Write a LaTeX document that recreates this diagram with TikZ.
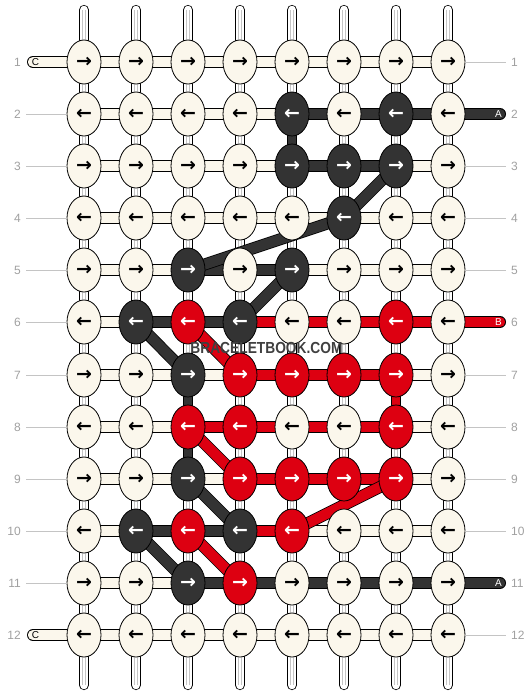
\documentclass[tikz,border=0pt]{standalone}
\usepackage{fontspec}
\usepackage{graphicx}
\setmainfont{Liberation Sans}
\newfontfamily\glyphfont{DejaVu Sans}
\usetikzlibrary{shapes.geometric,backgrounds}

\definecolor{cream}{HTML}{FBF7EC}
\definecolor{dark}{HTML}{333333}
\definecolor{bbred}{HTML}{DD0011}
\definecolor{numgray}{HTML}{A0A0A0}
\definecolor{seamgray}{HTML}{C4C4C4}
\definecolor{markgray}{HTML}{404040}

\newcommand{\goR}{→}
\newcommand{\goL}{←}

\begin{document}
\begin{tikzpicture}[x=1pt, y=-1pt,
    knot/.style={ellipse, draw=black, line width=0.8pt, minimum width=34pt, minimum height=44pt, inner sep=0pt, font=\glyphfont\bfseries\fontsize{19}{19}\selectfont},
    kcol/.is choice,
    kcol/W/.style={fill=cream, text=black},
    kcol/D/.style={fill=dark, text=white},
    kcol/R/.style={fill=bbred, text=white},
    strand/.style={draw=black, line width=0.8pt, double distance=10.4pt, scol=#1},
    vstrand/.style={draw=black, line width=0.8pt, double distance=8.6pt, scol=#1},
    scol/.is choice,
    scol/W/.style={double=cream},
    scol/D/.style={double=dark},
    scol/R/.style={double=bbred},
    warp/.style={draw=black, line width=0.8pt, double=white, double distance=8.6pt},
    seam/.style={draw=seamgray, line width=0.5pt},
    rownum/.style={text=numgray, font=\fontsize{12}{12}\selectfont, inner sep=5pt},
    tick/.style={draw=seamgray, line width=0.8pt},
    endlabel/.style={font=\fontsize{10}{10}\selectfont, inner sep=0pt}
]
\useasboundingbox (0,0) rectangle (532,696);

% Knots
\foreach \k [count=\c] in {W,W,W,W,W,W,W,W} \node[knot, kcol=\k] (k-1-\c) at (32+52*\c, 62) {\goR};
\foreach \k [count=\c] in {W,W,W,W,D,W,D,W} \node[knot, kcol=\k] (k-2-\c) at (32+52*\c, 114) {\goL};
\foreach \k [count=\c] in {W,W,W,W,D,D,D,W} \node[knot, kcol=\k] (k-3-\c) at (32+52*\c, 166) {\goR};
\foreach \k [count=\c] in {W,W,W,W,W,D,W,W} \node[knot, kcol=\k] (k-4-\c) at (32+52*\c, 218) {\goL};
\foreach \k [count=\c] in {W,W,D,W,D,W,W,W} \node[knot, kcol=\k] (k-5-\c) at (32+52*\c, 270) {\goR};
\foreach \k [count=\c] in {W,D,R,D,W,W,R,W} \node[knot, kcol=\k] (k-6-\c) at (32+52*\c, 322) {\goL};
\foreach \k [count=\c] in {W,W,D,R,R,R,R,W} \node[knot, kcol=\k] (k-7-\c) at (32+52*\c, 375) {\goR};
\foreach \k [count=\c] in {W,W,R,R,W,W,R,W} \node[knot, kcol=\k] (k-8-\c) at (32+52*\c, 427) {\goL};
\foreach \k [count=\c] in {W,W,D,R,R,R,R,W} \node[knot, kcol=\k] (k-9-\c) at (32+52*\c, 479) {\goR};
\foreach \k [count=\c] in {W,D,R,D,R,W,W,W} \node[knot, kcol=\k] (k-10-\c) at (32+52*\c, 531) {\goL};
\foreach \k [count=\c] in {W,W,D,R,W,W,W,W} \node[knot, kcol=\k] (k-11-\c) at (32+52*\c, 583) {\goR};
\foreach \k [count=\c] in {W,W,W,W,W,W,W,W} \node[knot, kcol=\k] (k-12-\c) at (32+52*\c, 635) {\goL};

% Row numbers
\foreach \r in {1,...,12} {
  \node[rownum, anchor=east] (ln-\r) at (26,0 |- k-\r-1) {\r};
  \node[rownum, anchor=west] (rn-\r) at (506,0 |- k-\r-8) {\r};
}
\foreach \r in {2,...,11} \draw[tick] (ln-\r.east) -- (k-\r-1.west);
\foreach \r in {1,3,4,5,7,8,9,10,12} \draw[tick] (k-\r-8.east) -- (rn-\r.west);

\begin{pgfonlayer}{background}
% Warp threads
\foreach \c in {1,...,8} {
  \coordinate (top-\c) at (32+52*\c, 10);
  \coordinate (bot-\c) at (32+52*\c, 685);
  \draw[warp, line cap=round] (top-\c) -- (k-1-\c.center);
  \draw[warp, line cap=round] (bot-\c) -- (k-12-\c.center);
  \foreach \dx in {-1.4,1.4} {
    \draw[seam] ([xshift=\dx pt]top-\c) -- ([xshift=\dx pt]k-1-\c.north);
    \draw[seam] ([xshift=\dx pt]bot-\c) -- ([xshift=\dx pt]k-12-\c.south);
  }
}
\foreach \r in {1,...,11} {
  \pgfmathtruncatemacro{\s}{\r+1}
  \foreach \c in {1,...,8} {
    \draw[warp] (k-\r-\c.center) -- (k-\s-\c.center);
    \foreach \dx in {-1.4,1.4}
      \draw[seam] ([xshift=\dx pt]k-\r-\c.south) -- ([xshift=\dx pt]k-\s-\c.north);
  }
}
\foreach \ra/\rb/\c/\k in {2/3/5/D, 7/8/3/D, 7/8/7/R, 8/9/3/D}
  \draw[vstrand=\k] (k-\ra-\c.center) -- (k-\rb-\c.center);

% Rows
\foreach \k [count=\c] in {W,W,W,W,W,W,W} {\pgfmathtruncatemacro{\n}{\c+1} \draw[strand=\k] (k-1-\c.center) -- (k-1-\n.center);}
\foreach \k [count=\c] in {W,W,W,W,D,D,D} {\pgfmathtruncatemacro{\n}{\c+1} \draw[strand=\k] (k-2-\c.center) -- (k-2-\n.center);}
\foreach \k [count=\c] in {W,W,W,W,D,D,W} {\pgfmathtruncatemacro{\n}{\c+1} \draw[strand=\k] (k-3-\c.center) -- (k-3-\n.center);}
\foreach \k [count=\c] in {W,W,W,W,W,W,W} {\pgfmathtruncatemacro{\n}{\c+1} \draw[strand=\k] (k-4-\c.center) -- (k-4-\n.center);}
\foreach \k [count=\c] in {W,W,D,D,W,W,W} {\pgfmathtruncatemacro{\n}{\c+1} \draw[strand=\k] (k-5-\c.center) -- (k-5-\n.center);}
\foreach \k [count=\c] in {W,D,D,R,R,R,R} {\pgfmathtruncatemacro{\n}{\c+1} \draw[strand=\k] (k-6-\c.center) -- (k-6-\n.center);}
\foreach \k [count=\c] in {W,W,W,R,R,R,W} {\pgfmathtruncatemacro{\n}{\c+1} \draw[strand=\k] (k-7-\c.center) -- (k-7-\n.center);}
\foreach \k [count=\c] in {W,W,R,R,R,R,W} {\pgfmathtruncatemacro{\n}{\c+1} \draw[strand=\k] (k-8-\c.center) -- (k-8-\n.center);}
\foreach \k [count=\c] in {W,W,W,R,R,R,W} {\pgfmathtruncatemacro{\n}{\c+1} \draw[strand=\k] (k-9-\c.center) -- (k-9-\n.center);}
\foreach \k [count=\c] in {W,D,D,R,W,W,W} {\pgfmathtruncatemacro{\n}{\c+1} \draw[strand=\k] (k-10-\c.center) -- (k-10-\n.center);}
\foreach \k [count=\c] in {W,W,D,D,D,D,D} {\pgfmathtruncatemacro{\n}{\c+1} \draw[strand=\k] (k-11-\c.center) -- (k-11-\n.center);}
\foreach \k [count=\c] in {W,W,W,W,W,W,W} {\pgfmathtruncatemacro{\n}{\c+1} \draw[strand=\k] (k-12-\c.center) -- (k-12-\n.center);}

% Diagonals
\foreach \ra/\ca/\rb/\cb/\k in {3/7/4/6/D, 4/6/5/3/D, 5/5/6/4/D, 6/2/7/3/D, 9/3/10/4/D, 10/2/11/3/D,
                                6/3/7/4/R, 8/3/9/4/R, 9/7/10/5/R, 10/3/11/4/R}
  \draw[strand=\k] (k-\ra-\ca.center) -- (k-\rb-\cb.center);

% Thread ends
\coordinate (end-1) at (33,0 |- k-1-1);
\coordinate (end-12) at (33,0 |- k-12-1);
\coordinate (end-2) at (500,0 |- k-2-8);
\coordinate (end-6) at (500,0 |- k-6-8);
\coordinate (end-11) at (500,0 |- k-11-8);
\draw[strand=W, line cap=round] (k-1-1.center) -- (end-1);
\draw[strand=W, line cap=round] (k-12-1.center) -- (end-12);
\draw[strand=D, line cap=round] (k-2-8.center) -- (end-2);
\draw[strand=R, line cap=round] (k-6-8.center) -- (end-6);
\draw[strand=D, line cap=round] (k-11-8.center) -- (end-11);
\node[endlabel] (tag-1) at (35.5,0 |- k-1-1) {C};
\node[endlabel] (tag-12) at (35.5,0 |- k-12-1) {C};
\node[endlabel, text=white] (tag-2) at (498.5,0 |- k-2-8) {A};
\node[endlabel, text=white] (tag-6) at (498.5,0 |- k-6-8) {B};
\node[endlabel, text=white] (tag-11) at (498.5,0 |- k-11-8) {A};
\end{pgfonlayer}

% Watermark
\node[font=\bfseries\fontsize{16}{16}\selectfont, text=markgray, inner sep=0pt] (mark) at (266.5,347.5)
  {\scalebox{0.86}[1]{BRACELETBOOK.COM}};

\end{tikzpicture}
\end{document}
